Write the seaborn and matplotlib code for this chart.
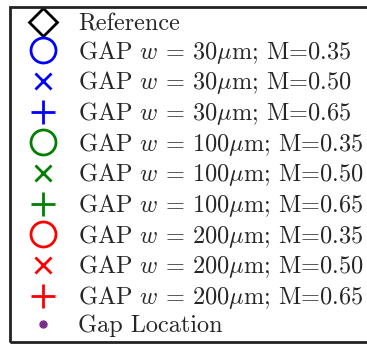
import matplotlib
matplotlib.use("Agg")
import matplotlib.pyplot as plt
import seaborn as sns
from matplotlib.lines import Line2D
from matplotlib.patches import Rectangle

sns.set_theme(style="white")
plt.rcParams["font.family"] = ["serif"]
plt.rcParams["font.serif"] = ["cmr10", "DejaVu Serif"]
plt.rcParams["mathtext.fontset"] = "cm"
plt.rcParams["axes.formatter.use_mathtext"] = True

labels = [
    "Reference",
    r"GAP $w$ = 30$\mu$m; M=0.35",
    r"GAP $w$ = 30$\mu$m; M=0.50",
    r"GAP $w$ = 30$\mu$m; M=0.65",
    r"GAP $w$ = 100$\mu$m; M=0.35",
    r"GAP $w$ = 100$\mu$m; M=0.50",
    r"GAP $w$ = 100$\mu$m; M=0.65",
    r"GAP $w$ = 200$\mu$m; M=0.35",
    r"GAP $w$ = 200$\mu$m; M=0.50",
    r"GAP $w$ = 200$\mu$m; M=0.65",
    "Gap Location",
]
colors = ["black", "blue", "blue", "blue", "green", "green", "green",
          "red", "red", "red", "#7b2d8e"]
markers = ["D", "o", "x", "+", "o", "x", "+", "o", "x", "+", "o"]

fig = plt.figure(figsize=(3.67, 3.45), dpi=100)
ax = fig.add_axes([0, 0, 1, 1])
ax.set_axis_off()

handles = []
for lab, c, m in zip(labels, colors, markers):
    if m == "D":
        h = Line2D([], [], linestyle="none", marker="D", markersize=14,
                   markerfacecolor="none", markeredgecolor=c, markeredgewidth=2)
    elif m == "o" and lab == "Gap Location":
        h = Line2D([], [], linestyle="none", marker="o", markersize=5,
                   markerfacecolor=c, markeredgecolor=c)
    elif m == "o":
        h = Line2D([], [], linestyle="none", marker="o", markersize=18,
                   markerfacecolor="none", markeredgecolor=c, markeredgewidth=2)
    elif m == "x":
        h = Line2D([], [], linestyle="none", marker="x", markersize=12,
                   color=c, markeredgewidth=2)
    else:
        h = Line2D([], [], linestyle="none", marker="+", markersize=17,
                   color=c, markeredgewidth=2)
    handles.append(h)

leg = fig.legend(handles, labels, loc="upper left",
                 bbox_to_anchor=(10 / 367, 1 - 7 / 345),
                 borderaxespad=0,
                 fontsize=17.5, frameon=False,
                 borderpad=0.25,
                 labelspacing=0.15, handletextpad=0.3, handlelength=2.25)

# frame drawn as a rectangle that runs past the right edge, as in the reference
fig.canvas.draw()
bb = leg.get_window_extent().transformed(fig.transFigure.inverted())
frame = Rectangle((bb.x0, bb.y0 + 1 / 345), 1.2 - bb.x0, bb.height - 1 / 345,
                  transform=fig.transFigure, fill=False,
                  edgecolor="#222222", linewidth=2, zorder=10)
fig.add_artist(frame)

fig.savefig("out.png", dpi=100)
